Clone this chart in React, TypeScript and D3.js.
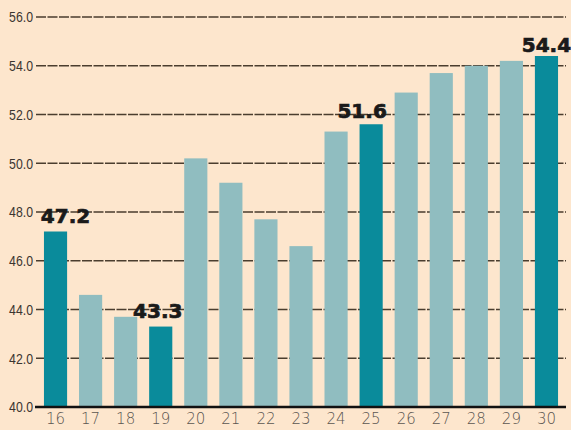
import React from "react";
import * as d3 from "d3";

const years = ["16","17","18","19","20","21","22","23","24","25","26","27","28","29","30"];
const values = [47.2, 44.6, 43.7, 43.3, 50.2, 49.2, 47.7, 46.6, 51.3, 51.6, 52.9, 53.7, 54.0, 54.2, 54.4];
const highlighted = ["16","19","25","30"];
const yTicks = [40, 42, 44, 46, 48, 50, 52, 54, 56];
const labelOffsets: Record<string, [number, number]> = { "16": [10, -9], "19": [-3, -9], "25": [-9, -6], "30": [0, -4] };

const W = 571, H = 430;
const BG = "#fde6cd";
const DARK = "#0a8b9b";
const LIGHT = "#90bdc0";

export default function App() {
  const x = d3.scaleBand<string>().domain(years).range([38, 564]).paddingInner(0.34).paddingOuter(0.17);
  const y = d3.scaleLinear().domain([40, 56]).range([407, 17]);
  return (
    <svg width={W} height={H} style={{ position: "absolute", left: 0, top: 0, display: "block" }}>
      <rect width={W} height={H} fill={BG} />
      {yTicks.map((t) => (
        <g key={t}>
          {t > 40 && (
            <line x1={36} x2={566} y1={y(t)} y2={y(t)} stroke="#4a3d2e" strokeWidth={1.4} strokeDasharray="10 1.5" />
          )}
          <text transform={`translate(33,${y(t)}) scale(0.82,1)`} dy="0.36em" textAnchor="end" fontFamily="'Liberation Sans', sans-serif" fontSize={15} fill="#3a3530">
            {t.toFixed(1)}
          </text>
        </g>
      ))}
      {years.map((yr, i) => (
        <rect key={yr} x={x(yr)} width={x.bandwidth()} y={y(values[i])} height={y(40) - y(values[i])} fill={highlighted.includes(yr) ? DARK : LIGHT} />
      ))}
      <line x1={35} x2={566} y1={y(40)} y2={y(40)} stroke="#111" strokeWidth={2.5} />
      {years.map((yr) => (
        <text key={yr} x={(x(yr) as number) + x.bandwidth() / 2} y={424} textAnchor="middle" fontFamily="'DejaVu Sans', sans-serif" fontWeight={200} fontSize={15} fill="#5a5550">
          {yr}
        </text>
      ))}
      {years.map((yr, i) => {
        if (!highlighted.includes(yr)) return null;
        const [dx, dy] = labelOffsets[yr];
        return (
          <text key={"l" + yr} x={(x(yr) as number) + x.bandwidth() / 2 + dx} y={y(values[i]) + dy} textAnchor="middle" fontFamily="'DejaVu Sans', sans-serif" fontWeight="bold" fontSize={20} fill="#1a1a1a" stroke="#1a1a1a" strokeWidth={0.7}>
            {values[i].toFixed(1)}
          </text>
        );
      })}
    </svg>
  );
}
